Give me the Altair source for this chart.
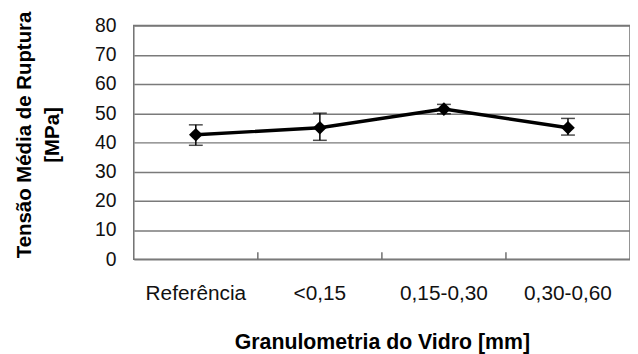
import altair as alt
import pandas as pd

categories = ["Referência", "<0,15", "0,15-0,30", "0,30-0,60"]
means = [42.6, 45.0, 51.4, 45.0]
err_low = [39.0, 40.7, 49.8, 42.5]
err_high = [46.0, 50.0, 53.0, 48.2]
boundaries = ["<0,15", "0,15-0,30", "0,30-0,60"]
y_ticks = [0, 10, 20, 30, 40, 50, 60, 70, 80]

FONT = "Liberation Sans"

df = pd.DataFrame({"cat": categories, "mean": means, "lo": err_low, "hi": err_high})
bdf = pd.DataFrame({"cat": boundaries})

xscale = alt.Scale(type="band", domain=categories, paddingInner=0, paddingOuter=0)
yscale = alt.Scale(domain=[0, 80], nice=False, zero=True)

xaxis = alt.Axis(
    title="Granulometria do Vidro [mm]",
    titleFont=FONT, titleFontSize=21.5, titleFontWeight="bold", titleColor="black",
    titleBaseline="alphabetic", titleY=90,
    labelFont=FONT, labelFontSize=21, labelColor="#111111", labelAngle=0,
    labelAlign="center",
    labelPadding=41, labelBaseline="alphabetic", bandPosition=0.5,
    ticks=False, domain=False, grid=False,
)
yaxis = alt.Axis(
    title=["Tensão Média de Ruptura", "[MPa]"],
    titleFont=FONT, titleFontSize=20.6, titleFontWeight="bold", titleColor="black",
    titleAngle=270, titleAlign="center", titleBaseline="alphabetic",
    titleX=-104, titleY=110, titleLineHeight=28,
    labelFont=FONT, labelFontSize=19.5, labelColor="#111111", labelPadding=18,
    values=y_ticks, ticks=False, domain=False, labelOverlap=False,
    grid=True, gridColor="#7a7a7a", gridWidth=1.5,
)

def xe(bp=0.5):
    return alt.X("cat:N", scale=xscale, sort=categories, bandPosition=bp, axis=xaxis)

def ye(field):
    return alt.Y(field, scale=yscale, axis=yaxis)

line = alt.Chart(df).mark_line(color="black", strokeWidth=3.5).encode(x=xe(), y=ye("mean:Q"))
pts = alt.Chart(df).mark_point(shape="diamond", filled=True, color="black", size=190, opacity=1).encode(
    x=xe(), y=ye("mean:Q"))
bars = alt.Chart(df).mark_rule(color="black", strokeWidth=1.5).encode(
    x=xe(), y=ye("lo:Q"), y2="hi:Q")
cap_lo = alt.Chart(df).mark_tick(color="black", thickness=1.5, size=14, orient="horizontal").encode(
    x=xe(), y=ye("lo:Q"))
cap_hi = alt.Chart(df).mark_tick(color="black", thickness=1.5, size=14, orient="horizontal").encode(
    x=xe(), y=ye("hi:Q"))
inner_ticks = alt.Chart(bdf).mark_rule(color="#707070", strokeWidth=1.5).encode(
    x=xe(0), y=alt.value(236), y2=alt.value(229))

chart = alt.layer(line, inner_ticks, bars, cap_lo, cap_hi, pts).properties(
    width=501, height=236,
    autosize=alt.AutoSizeParams(type="none"),
    padding={"left": 127, "top": 16, "right": 0, "bottom": 94},
    background="white",
).configure_view(stroke="#707070", strokeWidth=1.5)

chart.save("out.html", embed_options={"renderer": "svg", "actions": False})
